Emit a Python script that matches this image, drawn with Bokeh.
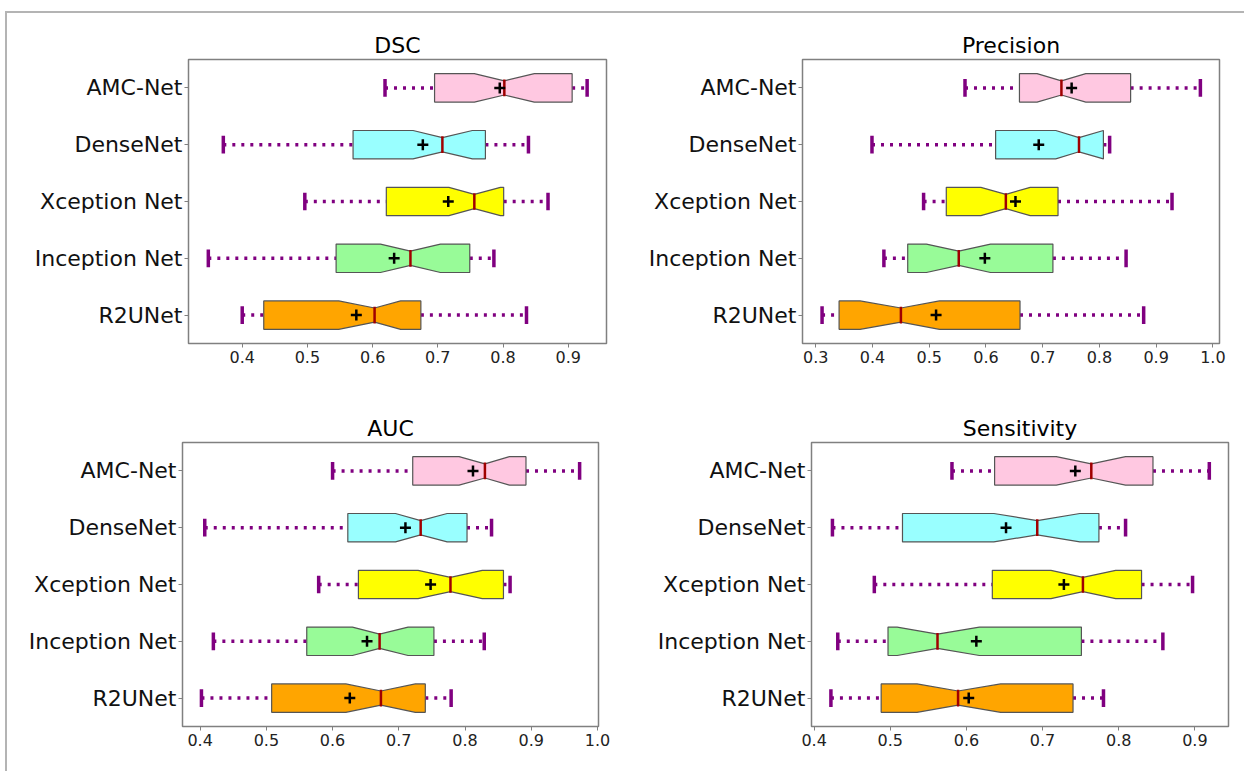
from bokeh.plotting import figure
from bokeh.layouts import row, column
from bokeh.models import FixedTicker, Range1d, PrintfTickFormatter
from bokeh.embed import file_html
from bokeh.resources import INLINE

categories = ["AMC-Net", "DenseNet", "Xception Net", "Inception Net", "R2UNet"]
positions = [5, 4, 3, 2, 1]
box_colors = ["#FFC8E1", "#99FFFF", "#FFFF00", "#98FB98", "#FFA500"]

# DSC
dsc_wlo = [0.619, 0.371, 0.496, 0.348, 0.400]
dsc_q1 = [0.695, 0.570, 0.621, 0.544, 0.433]
dsc_nlo = [0.756, 0.662, 0.717, 0.612, 0.548]
dsc_med = [0.802, 0.707, 0.756, 0.658, 0.603]
dsc_nhi = [0.848, 0.753, 0.796, 0.704, 0.643]
dsc_q3 = [0.906, 0.773, 0.801, 0.749, 0.674]
dsc_whi = [0.929, 0.839, 0.869, 0.786, 0.836]
dsc_mean = [0.795, 0.677, 0.716, 0.633, 0.575]
dsc_ticks = [0.4, 0.5, 0.6, 0.7, 0.8, 0.9]

# Precision
prec_wlo = [0.563, 0.399, 0.490, 0.420, 0.311]
prec_q1 = [0.659, 0.617, 0.530, 0.462, 0.341]
prec_nlo = [0.690, 0.723, 0.591, 0.495, 0.378]
prec_med = [0.733, 0.764, 0.635, 0.552, 0.450]
prec_nhi = [0.776, 0.807, 0.678, 0.608, 0.518]
prec_q3 = [0.855, 0.807, 0.727, 0.718, 0.660]
prec_whi = [0.978, 0.818, 0.928, 0.847, 0.878]
prec_mean = [0.751, 0.693, 0.652, 0.598, 0.512]
prec_ticks = [0.3, 0.4, 0.5, 0.6, 0.7, 0.8, 0.9, 1.0]

# AUC
auc_wlo = [0.600, 0.407, 0.579, 0.420, 0.402]
auc_q1 = [0.721, 0.623, 0.639, 0.561, 0.508]
auc_nlo = [0.791, 0.695, 0.729, 0.630, 0.620]
auc_med = [0.830, 0.733, 0.778, 0.671, 0.673]
auc_nhi = [0.867, 0.773, 0.826, 0.714, 0.725]
auc_q3 = [0.892, 0.803, 0.858, 0.753, 0.740]
auc_whi = [0.973, 0.840, 0.868, 0.829, 0.779]
auc_mean = [0.812, 0.710, 0.748, 0.652, 0.626]
auc_ticks = [0.4, 0.5, 0.6, 0.7, 0.8, 0.9, 1.0]

# Sensitivity
sens_wlo = [0.581, 0.424, 0.479, 0.431, 0.422]
sens_q1 = [0.637, 0.516, 0.634, 0.497, 0.488]
sens_nlo = [0.718, 0.636, 0.711, 0.509, 0.535]
sens_med = [0.764, 0.693, 0.753, 0.562, 0.589]
sens_nhi = [0.809, 0.749, 0.796, 0.617, 0.645]
sens_q3 = [0.845, 0.774, 0.830, 0.751, 0.740]
sens_whi = [0.919, 0.809, 0.897, 0.858, 0.780]
sens_mean = [0.743, 0.652, 0.728, 0.613, 0.603]
sens_ticks = [0.4, 0.5, 0.6, 0.7, 0.8, 0.9]

FONT = "DejaVu Sans"
HW = 0.25      # half box width
WAIST = 0.125  # half width at notch waist
CAP = 0.125


def make_panel(title, wlo, q1, nlo, med, nhi, q3, whi, mean, ticks, xr,
               width, height, mb_left, mb_right, mb_top, mb_bottom):
    p = figure(width=width, height=height, output_backend="svg",
               toolbar_location=None, x_range=Range1d(*xr),
               y_range=Range1d(0.5, 5.5),
               min_border_left=mb_left, min_border_right=mb_right,
               min_border_top=mb_top, min_border_bottom=mb_bottom)
    p.title.text = title
    p.title.text_font = FONT
    p.title.text_font_size = "22px"
    p.title.text_font_style = "normal"
    p.title.align = "center"
    p.title.text_color = "#000000"
    p.title.standoff = 3
    p.grid.visible = False
    p.outline_line_color = "#808080"
    p.outline_line_width = 1.5
    p.background_fill_color = "white"
    p.border_fill_color = "white"

    p.xaxis.ticker = FixedTicker(ticks=ticks)
    p.xaxis.formatter = PrintfTickFormatter(format="%.1f")
    p.xaxis.major_label_text_font = FONT
    p.xaxis.major_label_text_font_size = "16px"
    p.xaxis.major_label_text_color = "#222222"
    p.xaxis.major_label_standoff = 3
    p.xaxis.axis_line_color = None
    p.xaxis.major_tick_line_color = "#808080"
    p.xaxis.major_tick_in = 0
    p.xaxis.major_tick_out = 4
    p.xaxis.minor_tick_line_color = None

    p.yaxis.ticker = FixedTicker(ticks=positions)
    p.yaxis.major_label_overrides = {pos: cat for pos, cat in zip(positions, categories)}
    p.yaxis.major_label_text_font = FONT
    p.yaxis.major_label_text_font_size = "22px"
    p.yaxis.major_label_text_color = "#111111"
    p.yaxis.major_label_standoff = 2
    p.yaxis.axis_line_color = None
    p.yaxis.major_tick_line_color = "#808080"
    p.yaxis.major_tick_in = 0
    p.yaxis.major_tick_out = 4
    p.yaxis.minor_tick_line_color = None

    ys = positions
    # whiskers
    p.segment(x0=wlo, y0=ys, x1=q1, y1=ys, line_color="#800080",
              line_width=3.5, line_dash="3 6")
    p.segment(x0=q3, y0=ys, x1=whi, y1=ys, line_color="#800080",
              line_width=3.5, line_dash="3 6")
    # notched boxes
    xs_list, ys_list = [], []
    for i in range(len(ys)):
        y = ys[i]
        xs_list.append([q1[i], nlo[i], med[i], nhi[i], q3[i],
                        q3[i], nhi[i], med[i], nlo[i], q1[i]])
        ys_list.append([y - HW, y - HW, y - WAIST, y - HW, y - HW,
                        y + HW, y + HW, y + WAIST, y + HW, y + HW])
    p.patches(xs_list, ys_list, fill_color=box_colors, line_color="#555555",
              line_width=1.2)
    # caps
    lo_y = [y - CAP for y in ys]
    hi_y = [y + CAP for y in ys]
    p.segment(x0=wlo, y0=lo_y, x1=wlo, y1=hi_y, line_color="#800080",
              line_width=3.5, line_cap="square")
    p.segment(x0=whi, y0=lo_y, x1=whi, y1=hi_y, line_color="#800080",
              line_width=3.5, line_cap="square")
    # medians
    p.segment(x0=med, y0=[y - WAIST for y in ys], x1=med,
              y1=[y + WAIST for y in ys], line_color="#A00000",
              line_width=2.5, line_cap="square")
    # means
    p.scatter(mean, ys, marker="cross", size=11, line_color="black",
              line_width=2.5)
    return p


p1 = make_panel("DSC", dsc_wlo, dsc_q1, dsc_nlo, dsc_med, dsc_nhi, dsc_q3,
                dsc_whi, dsc_mean, dsc_ticks, (0.3176, 0.9587),
                633, 387, 181, 34, 46, 57)
p2 = make_panel("Precision", prec_wlo, prec_q1, prec_nlo, prec_med, prec_nhi,
                prec_q3, prec_whi, prec_mean, prec_ticks, (0.2765, 1.0117),
                604, 387, 162, 25, 46, 57)
p3 = make_panel("AUC", auc_wlo, auc_q1, auc_nlo, auc_med, auc_nhi, auc_q3,
                auc_whi, auc_mean, auc_ticks, (0.3734, 1.0015),
                633, 371, 175, 42, 42, 45)
p4 = make_panel("Sensitivity", sens_wlo, sens_q1, sens_nlo, sens_med,
                sens_nhi, sens_q3, sens_whi, sens_mean, sens_ticks,
                (0.3965, 0.9442), 604, 371, 171, 16, 42, 45)

layout = column(row(p1, p2, spacing=0), row(p3, p4, spacing=0), spacing=0,
                styles={"border-top": "2px solid #b4b4b4",
                        "border-left": "2px solid #b4b4b4",
                        "margin-top": "11px", "margin-left": "5px"})

open("out.html", "w").write(file_html(layout, INLINE))
